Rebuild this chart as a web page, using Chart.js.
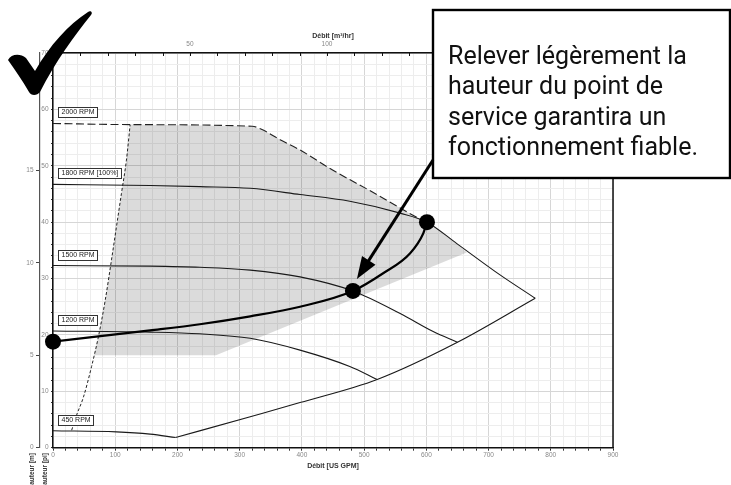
<!DOCTYPE html>
<html>
<head>
<meta charset="utf-8">
<script src="https://cdn.jsdelivr.net/npm/chart.js@4/dist/chart.umd.min.js"></script>
<style>
  html, body { margin: 0; padding: 0; background: #fff; }
  #wrap { width: 731px; height: 485px; }
</style>
</head>
<body>
<div id="wrap"><canvas id="pompeChart"></canvas></div>
<script>
// courbes : [débit US GPM, hauteur pi]
const rpmNames = ['2000 RPM', '1800 RPM [100%]', '1500 RPM', '1200 RPM', '450 RPM'];
const rpm2000 = [[0,57.5],[124,57.3],[320,57.0],[340,56.2],[365,54.6],[397,52.8],[450,49.2],[514,45.3],[558,42.5],[592,40.4]];
const rpm1800 = [[0,46.7],[156,46.5],[236,46.3],[317,46.0],[397,44.9],[477,43.7],[558,41.6],[601,40.0],[649,36.2],[719,30.6],[775,26.5]];
const rpm1500 = [[0,32.3],[156,32.2],[236,32.0],[317,31.5],[397,30.3],[482,27.8],[558,23.8],[611,20.6],[650,18.7]];
const rpm1200 = [[0,20.7],[156,20.5],[236,20.2],[317,19.4],[397,17.3],[477,14.4],[521,12.1]];
const rpm450 = [[0,3.0],[102,2.8],[156,2.4],[197,1.8]];
const finDeCourbe = [[197,1.8],[317,5.5],[397,8.0],[521,12.1],[650,18.7],[775,26.5]];
const debitMin = [[30,3.1],[38,5.8],[49,9.0],[62,14.4],[73,19.7],[84,26.2],[94,33.3],[102,39.2],[110,45.1],[118,51.0],[124,57.3]];
const zoneGrise = [[66,16.4],[262,16.4],[665,34.6],[649,36.2],[620,38.6],[601,40.0],[592,40.4],[558,42.5],[514,45.3],[450,49.2],[397,52.8],[365,54.6],[340,56.2],[320,57.0],[124,57.3],[118,51.0],[110,45.1],[102,39.2],[94,33.3],[84,26.2],[73,19.7]];
const courbeReseau = [[0,18.8],[156,20.8],[236,21.9],[317,23.3],[397,25.0],[482,27.8],[530,30.9],[574,34.5],[595,38.0],[601,40.0]];
const pointsService = [[0,18.8],[482,27.8],[601,40.0]];

const noteLignes = ['Relever légèrement la', 'hauteur du point de', 'service garantira un', 'fonctionnement fiable.'];

const GPM_MAX = 900;
const FT_MAX = 70;
const GPM_TO_M3H = 0.227125;
const FT_TO_M = 0.3048;

const pts = s => s.map(p => ({ x: p[0], y: p[1] }));
const tickFont = { family: '"Liberation Sans", Arial, sans-serif', size: 6.5 };

function courbe(data, extra) {
  return Object.assign({
    data: pts(data),
    showLine: true,
    pointRadius: 0,
    borderColor: '#1a1a1a',
    borderWidth: 1.1,
    cubicInterpolationMode: 'monotone',
    fill: false,
    order: 5
  }, extra || {});
}

const decor = {
  id: 'decor',
  afterDraw(chart) {
    const ctx = chart.ctx;
    const a = chart.chartArea;
    const x = chart.scales.x, y = chart.scales.y, x2 = chart.scales.x2;
    ctx.save();

    // cadre à droite
    ctx.strokeStyle = '#111';
    ctx.lineWidth = 1.5;
    ctx.beginPath();
    ctx.moveTo(a.right, a.top);
    ctx.lineTo(a.right, a.bottom);
    ctx.stroke();

    // graduations du haut (m3/hr)
    ctx.lineWidth = 1;
    for (let v = 0; v <= 200; v += 10) {
      const px = Math.round(x2.getPixelForValue(v)) + 0.5;
      ctx.beginPath();
      ctx.moveTo(px, a.top);
      ctx.lineTo(px, a.top + 3);
      ctx.stroke();
    }

    // titres des axes
    ctx.fillStyle = '#333';
    ctx.font = 'bold 7px "Liberation Sans", Arial, sans-serif';
    ctx.textAlign = 'center';
    ctx.textBaseline = 'middle';
    const cx = (a.left + a.right) / 2;
    ctx.fillText('Débit [m³/hr]', cx, 36);
    ctx.fillText('Débit [US GPM]', cx, 466);

    ctx.font = 'bold 6.5px "Liberation Sans", Arial, sans-serif';
    ctx.textAlign = 'right';
    [['Hauteur [m]', 32], ['Hauteur [pi]', 45]].forEach(t => {
      ctx.save();
      ctx.translate(t[1], 453);
      ctx.rotate(-Math.PI / 2);
      ctx.fillText(t[0], 0, 0);
      ctx.restore();
    });

    // étiquettes RPM
    ctx.font = '7px "Liberation Sans", Arial, sans-serif';
    ctx.textAlign = 'left';
    [rpm2000, rpm1800, rpm1500, rpm1200, rpm450].forEach((s, i) => {
      const cy = Math.round(y.getPixelForValue(s[0][1]) - 11);
      const w = Math.round(ctx.measureText(rpmNames[i]).width + 6);
      const bx = a.left + 5;
      ctx.fillStyle = '#fff';
      ctx.fillRect(bx, cy - 5, w, 10);
      ctx.strokeStyle = '#333';
      ctx.lineWidth = 1;
      ctx.strokeRect(bx + 0.5, cy - 4.5, w, 10);
      ctx.fillStyle = '#222';
      ctx.fillText(rpmNames[i], bx + 3.5, cy + 0.5);
    });

    // boîte de note
    const bx = 433, by = 10, bw = 297, bh = 168;
    ctx.fillStyle = '#fff';
    ctx.fillRect(bx, by, bw, bh);
    ctx.strokeStyle = '#000';
    ctx.lineWidth = 2.4;
    ctx.strokeRect(bx, by, bw, bh);
    ctx.fillStyle = '#111';
    ctx.font = '25px Roboto, "Noto Sans", sans-serif';
    ctx.textBaseline = 'alphabetic';
    noteLignes.forEach((l, i) => ctx.fillText(l, 448, 63.5 + i * 30.6));

    // flèche vers le point de service
    const p = pointsService[1];
    const tx = x.getPixelForValue(p[0]) + 4, ty = y.getPixelForValue(p[1]) - 12;
    const sx = bx, sy = 160;
    const dx = tx - sx, dy = ty - sy, len = Math.hypot(dx, dy);
    const ux = dx / len, uy = dy / len;
    const hl = 22, hw = 8;
    ctx.strokeStyle = '#000';
    ctx.lineWidth = 3;
    ctx.beginPath();
    ctx.moveTo(sx, sy);
    ctx.lineTo(tx - ux * hl * 0.8, ty - uy * hl * 0.8);
    ctx.stroke();
    ctx.fillStyle = '#000';
    ctx.beginPath();
    ctx.moveTo(tx, ty);
    ctx.lineTo(tx - ux * hl - uy * hw, ty - uy * hl + ux * hw);
    ctx.lineTo(tx - ux * hl + uy * hw, ty - uy * hl - ux * hw);
    ctx.closePath();
    ctx.fill();

    // coche
    ctx.beginPath();
    ctx.moveTo(8, 60);
    ctx.bezierCurveTo(11, 54, 20, 53, 26, 58);
    ctx.lineTo(35, 71);
    ctx.bezierCurveTo(50, 45, 68, 25, 88, 12);
    ctx.bezierCurveTo(91, 10, 93, 13, 91, 15);
    ctx.bezierCurveTo(75, 35, 55, 62, 40, 92);
    ctx.bezierCurveTo(37, 96, 31, 96, 29, 92);
    ctx.bezierCurveTo(22, 80, 15, 70, 8, 60);
    ctx.closePath();
    ctx.fill();

    ctx.restore();
  }
};

const pompeChart = new Chart(document.getElementById('pompeChart'), {
  type: 'scatter',
  data: {
    datasets: [
      { data: pts(zoneGrise), showLine: true, pointRadius: 0, borderWidth: 0, tension: 0,
        backgroundColor: 'rgba(0,0,0,0.14)', fill: 'shape', order: 10 },
      courbe(rpm2000, { borderDash: [8, 3.5], borderColor: '#222', borderWidth: 1.1 }),
      courbe(rpm1800),
      courbe(rpm1500),
      courbe(rpm1200),
      courbe(rpm450),
      courbe(finDeCourbe),
      courbe(debitMin, { borderDash: [3, 2], borderColor: '#222', borderWidth: 1 }),
      courbe(courbeReseau, { borderColor: '#000', borderWidth: 2.2, order: 2 }),
      { data: pts(pointsService), pointRadius: 8, pointHoverRadius: 8, borderWidth: 0,
        pointBackgroundColor: '#000', backgroundColor: '#000', clip: false, order: 1 }
    ]
  },
  options: {
    responsive: true,
    maintainAspectRatio: false,
    animation: false,
    events: [],
    layout: { padding: { top: 35, right: 118, bottom: 17.3, left: 0 } },
    plugins: { legend: { display: false }, tooltip: { enabled: false } },
    scales: {
      x: {
        type: 'linear', position: 'bottom', min: 0, max: GPM_MAX,
        ticks: { stepSize: 20, autoSkip: false, maxRotation: 0, includeBounds: false,
          callback: v => (v % 100 === 0 ? v : ''), font: tickFont, color: '#888', padding: 1 },
        grid: { color: c => (c.tick && c.tick.value % 100 === 0 ? '#d6d6d6' : '#ededed'),
          tickColor: '#333', tickLength: 3 },
        border: { color: '#111', width: 1.5 },
        afterFit: s => { s.height = 20; }
      },
      x2: {
        type: 'linear', position: 'top', min: 0, max: GPM_MAX * GPM_TO_M3H,
        ticks: { stepSize: 10, autoSkip: false, maxRotation: 0, includeBounds: false,
          callback: v => (Math.abs(v % 50) < 1e-6 && v > 0 ? Math.round(v) : ''),
          font: tickFont, color: '#888', padding: 4.5 },
        grid: { drawOnChartArea: false, drawTicks: false },
        border: { color: '#111', width: 1.5 },
        afterFit: s => { s.height = 18; }
      },
      y: {
        type: 'linear', position: 'left', min: 0, max: FT_MAX, weight: 0,
        ticks: { stepSize: 2, autoSkip: false, includeBounds: false,
          callback: v => (v % 10 === 0 ? v : ''), font: tickFont, color: '#888', padding: 2.5 },
        grid: { color: c => (c.tick && c.tick.value % 10 === 0 ? '#d6d6d6' : '#ededed'),
          tickColor: '#333', tickLength: 2 },
        border: { color: '#111', width: 1.5 },
        afterFit: s => { s.width = 13; }
      },
      y2: {
        type: 'linear', position: 'left', min: 0, max: FT_MAX * FT_TO_M, weight: 1,
        ticks: { stepSize: 5, autoSkip: false, includeBounds: false,
          font: tickFont, color: '#888', padding: 2.5 },
        grid: { drawOnChartArea: false, tickColor: '#444', tickLength: 4 },
        border: { color: '#555', width: 1.2 },
        afterFit: s => { s.width = 40; }
      }
    }
  },
  plugins: [decor]
});
</script>
</body>
</html>
